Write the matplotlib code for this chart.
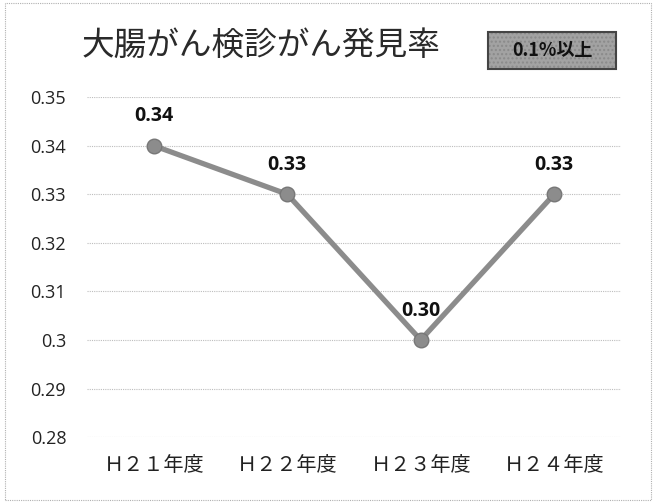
import matplotlib
matplotlib.use("Agg")
import matplotlib.pyplot as plt
from matplotlib.patches import Rectangle

plt.rcParams['font.family'] = ['Noto Sans CJK JP', 'DejaVu Sans']

# -------- DATA --------
categories = ["Ｈ２１年度", "Ｈ２２年度", "Ｈ２３年度", "Ｈ２４年度"]
values = [0.34, 0.33, 0.30, 0.33]
value_labels = ["0.34", "0.33", "0.30", "0.33"]
yticks = [0.28, 0.29, 0.30, 0.31, 0.32, 0.33, 0.34, 0.35]
ytick_labels = ["0.28", "0.29", "0.3", "0.31", "0.32", "0.33", "0.34", "0.35"]
title = "大腸がん検診がん発見率"
badge = "0.1%以上"

fig = plt.figure(figsize=(6.56, 5.03), dpi=100)
ax = fig.add_axes([0.1326, 0.131, 0.814, 0.676])

x = list(range(len(categories)))
ax.plot(x, values, color="#8c8c8c", linewidth=3.8, marker="o",
        markersize=10.5, markerfacecolor="#8c8c8c", markeredgecolor="#777777",
        zorder=3)

for xi, v, lab in zip(x, values, value_labels):
    ax.annotate(lab, (xi, v), xytext=(0, 14), textcoords="offset points",
                ha="center", va="bottom", fontsize=14, fontweight="bold",
                color="#111111", family=["Open Sans", "DejaVu Sans"])

ax.set_xlim(-0.5, len(categories) - 0.5)
ax.set_ylim(0.28, 0.35)
ax.set_yticks(yticks)
ax.set_yticklabels(ytick_labels, fontsize=13, color="#222222",
                   family=["Open Sans", "DejaVu Sans"])
ax.set_xticks(x)
ax.set_xticklabels(categories, fontsize=14.5, color="#222222")
ax.tick_params(axis="both", length=0)
ax.tick_params(axis="y", pad=15)
ax.tick_params(axis="x", pad=13)
ax.grid(axis="y", color="#bdbdbd", linestyle=(0, (1, 1)), linewidth=0.8)
ax.set_axisbelow(True)
for s in ax.spines.values():
    s.set_visible(False)

# -------- TITLE AND BADGE --------
fig.text(0.398, 0.909, title, ha="center", va="center", fontsize=23.5,
         color="#2a2a2a")
bx, by, bw, bh = 488, 32, 128, 37
fig.patches.append(Rectangle((bx / 656, 1 - (by + bh) / 503), bw / 656, bh / 503,
                             transform=fig.transFigure, facecolor="#a2a2a2",
                             edgecolor="#8a8a8a", linewidth=0,
                             hatch="....", zorder=2))
fig.patches.append(Rectangle((bx / 656, 1 - (by + bh) / 503), bw / 656, bh / 503,
                             transform=fig.transFigure, fill=False,
                             edgecolor="#444444", linewidth=1.5, zorder=2))
fig.text((bx + bw / 2) / 656, 1 - (by + bh / 2) / 503, badge, ha="center",
         va="center", fontsize=13, fontweight="bold", color="#111111", zorder=3)

# outer dotted frame
fig.patches.append(Rectangle((0.008, 0.006), 0.984, 0.988,
                             transform=fig.transFigure, fill=False,
                             edgecolor="#b0b0b0", linestyle=(0, (1, 1)),
                             linewidth=0.8))

fig.savefig("out.png", dpi=100)
